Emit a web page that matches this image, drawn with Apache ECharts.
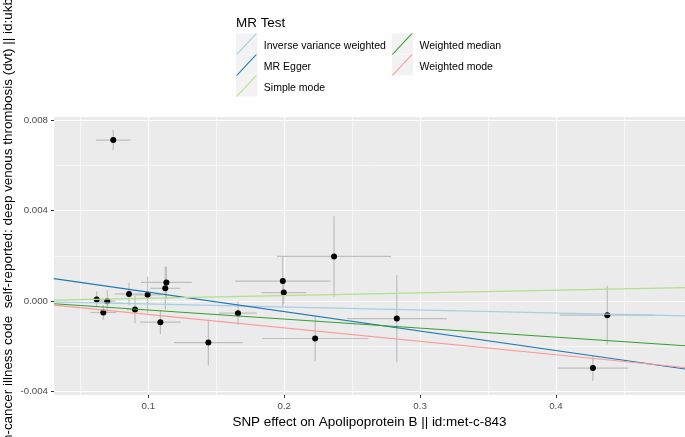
<!DOCTYPE html>
<html><head><meta charset="utf-8">
<script src="https://cdn.jsdelivr.net/npm/echarts@6/dist/echarts.min.js"></script>
<style>html,body{margin:0;padding:0;background:#fff}#c{width:685px;height:437px}</style>
</head><body><div id="c"></div>
<script>
// SNP effects (exposure x, outcome y) and their standard errors
const snpX = [0.0620, 0.0669, 0.0698, 0.0742, 0.0858, 0.0902, 0.0995, 0.1089, 0.1125, 0.1133, 0.1442, 0.1660, 0.1990, 0.1997, 0.2367, 0.2228, 0.2829, 0.4378, 0.4272];
const snpY = [0.00007, -0.00051, -0.00001, 0.00712, 0.00031, -0.00038, 0.00027, -0.00094, 0.00056, 0.00082, -0.00184, -0.00054, 0.00088, 0.00037, 0.00197, -0.00166, -0.00078, -0.00063, -0.00297];
const seX = [0.0050, 0.0095, 0.0060, 0.0128, 0.0104, 0.0060, 0.0110, 0.0150, 0.0110, 0.0187, 0.0252, 0.0138, 0.0350, 0.0165, 0.0420, 0.0390, 0.0368, 0.0350, 0.0260];
const seY = [0.00035, 0.00032, 0.00050, 0.00044, 0.00050, 0.00060, 0.00080, 0.00053, 0.00095, 0.00071, 0.00101, 0.00052, 0.00110, 0.00050, 0.00178, 0.00101, 0.00193, 0.00130, 0.00057];
// MR methods
const methods = ['Inverse variance weighted', 'MR Egger', 'Simple mode', 'Weighted median', 'Weighted mode'];
const slopes = [-0.00133, -0.00861, 0.00119, -0.00400, -0.00594];
const intercepts = [0, 0.001253, 0, 0, 0];
const methodColors = ['#A6CEE3', '#1F78B4', '#B2DF8A', '#33A02C', '#FB9A99'];
// axis ticks
const xTicks = [0.1, 0.2, 0.3, 0.4];
const xMinor = [0.05, 0.15, 0.25, 0.35, 0.45];
const yTicks = [-0.004, 0, 0.004, 0.008];
const yMinor = [-0.002, 0.002, 0.006];
const xRange = [0.0306, 0.495];
const yRange = [-0.00416, 0.00814];

const font = 'Liberation Sans, Arial, sans-serif';
const chart = echarts.init(document.getElementById('c'));

const errData = snpX.map((x, i) => [x, snpY[i], seX[i], seY[i]]);
const pointData = snpX.map((x, i) => [x, snpY[i]]);

const lineSeries = methods.map((m, i) => ({
  name: m, type: 'line', xAxisIndex: 0, yAxisIndex: 0,
  data: [[xRange[0], intercepts[i] + slopes[i] * xRange[0]], [xRange[1], intercepts[i] + slopes[i] * xRange[1]]],
  symbol: 'none', silent: true, z: 5,
  lineStyle: { color: methodColors[i], width: 1.1 },
  itemStyle: { color: methodColors[i] }
}));

const legendIcon = 'path://M0,22L1.5,22L22,0L20.5,0Z';
const legendCommon = {
  orient: 'vertical', itemWidth: 21.5, itemHeight: 21, itemGap: 0, icon: legendIcon,
  selectedMode: false, padding: 0,
  formatter: '{t|{name}}',
  textStyle: { fontFamily: font, fontSize: 10.5, color: '#000',
    rich: { t: { fontFamily: font, fontSize: 10.5, color: '#000', padding: [4, 0, 0, 1.6] } } }
};

const option = {
  animation: false,
  backgroundColor: '#fff',
  grid: { left: 54, right: 0, top: 117, bottom: 42, show: true, backgroundColor: '#EBEBEB', borderWidth: 0 },
  xAxis: [{
    type: 'value', min: xRange[0], max: xRange[1], position: 'bottom',
    axisLine: { show: false, onZero: false },
    axisTick: { show: true, length: 3, lineStyle: { color: '#333333', width: 1 }, customValues: xTicks },
    axisLabel: { customValues: xTicks, formatter: v => v.toFixed(1), color: '#4D4D4D', fontFamily: font, fontSize: 9.7, margin: 6 },
    splitLine: { show: true, lineStyle: { color: '#FFFFFF', width: 1.1 } }
  }, {
    type: 'value', min: xRange[0], max: xRange[1], position: 'top',
    axisLine: { show: false, onZero: false }, axisTick: { show: false, customValues: xMinor },
    axisLabel: { show: false, customValues: xMinor },
    splitLine: { show: true, lineStyle: { color: '#FFFFFF', width: 0.55 } }
  }],
  yAxis: [{
    type: 'value', min: yRange[0], max: yRange[1], position: 'left',
    axisLine: { show: false, onZero: false },
    axisTick: { show: true, length: 3, lineStyle: { color: '#333333', width: 1 }, customValues: yTicks },
    axisLabel: { customValues: yTicks, formatter: v => (Math.abs(v) < 1e-9 ? 0 : v).toFixed(3), color: '#4D4D4D', fontFamily: font, fontSize: 9.7, margin: 6 },
    splitLine: { show: true, lineStyle: { color: '#FFFFFF', width: 1.1 } }
  }, {
    type: 'value', min: yRange[0], max: yRange[1], position: 'right',
    axisLine: { show: false, onZero: false }, axisTick: { show: false, customValues: yMinor },
    axisLabel: { show: false, customValues: yMinor },
    splitLine: { show: true, lineStyle: { color: '#FFFFFF', width: 0.55 } }
  }],
  legend: [
    Object.assign({ left: 236, top: 33.5, data: methods.slice(0, 3) }, legendCommon),
    Object.assign({ left: 391.7, top: 33.5, data: methods.slice(3) }, legendCommon)
  ],
  graphic: [
    { type: 'text', left: 236, top: 16.5, style: { text: 'MR Test', fontFamily: font, fontSize: 13.45, fill: '#000' } },
    { type: 'rect', shape: { x: 236, y: 33.5, width: 21.5, height: 21 }, style: { fill: '#F2F2F2' }, z: -1 },
    { type: 'rect', shape: { x: 236, y: 54.5, width: 21.5, height: 21 }, style: { fill: '#F2F2F2' }, z: -1 },
    { type: 'rect', shape: { x: 236, y: 75.5, width: 21.5, height: 21 }, style: { fill: '#F2F2F2' }, z: -1 },
    { type: 'rect', shape: { x: 391.7, y: 33.5, width: 21.5, height: 21 }, style: { fill: '#F2F2F2' }, z: -1 },
    { type: 'rect', shape: { x: 391.7, y: 54.5, width: 21.5, height: 21 }, style: { fill: '#F2F2F2' }, z: -1 },
    { type: 'text', x: 369.5, y: 422, style: { text: 'SNP effect on Apolipoprotein B || id:met-c-843', fontFamily: font, fontSize: 13.45, fill: '#000', align: 'center', verticalAlign: 'middle' } },
    { type: 'text', x: 8.5, y: 245, rotation: Math.PI / 2, style: { text: 'SNP effect on Non-cancer illness code  self-reported: deep venous thrombosis (dvt) || id:ukb-b-12040', fontFamily: font, fontSize: 13.45, fill: '#000', align: 'center', verticalAlign: 'middle' } }
  ],
  series: [{
    type: 'custom', name: 'errorbars', xAxisIndex: 0, yAxisIndex: 0, clip: true, silent: true, z: 2,
    data: errData,
    renderItem: (params, api) => {
      const x = api.value(0), y = api.value(1), sx = api.value(2), sy = api.value(3);
      const a = api.coord([x - sx, y]), b = api.coord([x + sx, y]);
      const c = api.coord([x, y - sy]), d = api.coord([x, y + sy]);
      const st = { stroke: '#BEBEBE', lineWidth: 1.2 };
      return { type: 'group', children: [
        { type: 'line', shape: { x1: a[0], y1: a[1], x2: b[0], y2: b[1] }, style: st },
        { type: 'line', shape: { x1: c[0], y1: c[1], x2: d[0], y2: d[1] }, style: st }
      ] };
    }
  }, {
    type: 'scatter', name: 'SNPs', xAxisIndex: 0, yAxisIndex: 0, data: pointData,
    symbolSize: 6, itemStyle: { color: '#000', opacity: 1 }, z: 3, silent: true
  }].concat(lineSeries)
};
chart.setOption(option);
</script>
</body></html>
